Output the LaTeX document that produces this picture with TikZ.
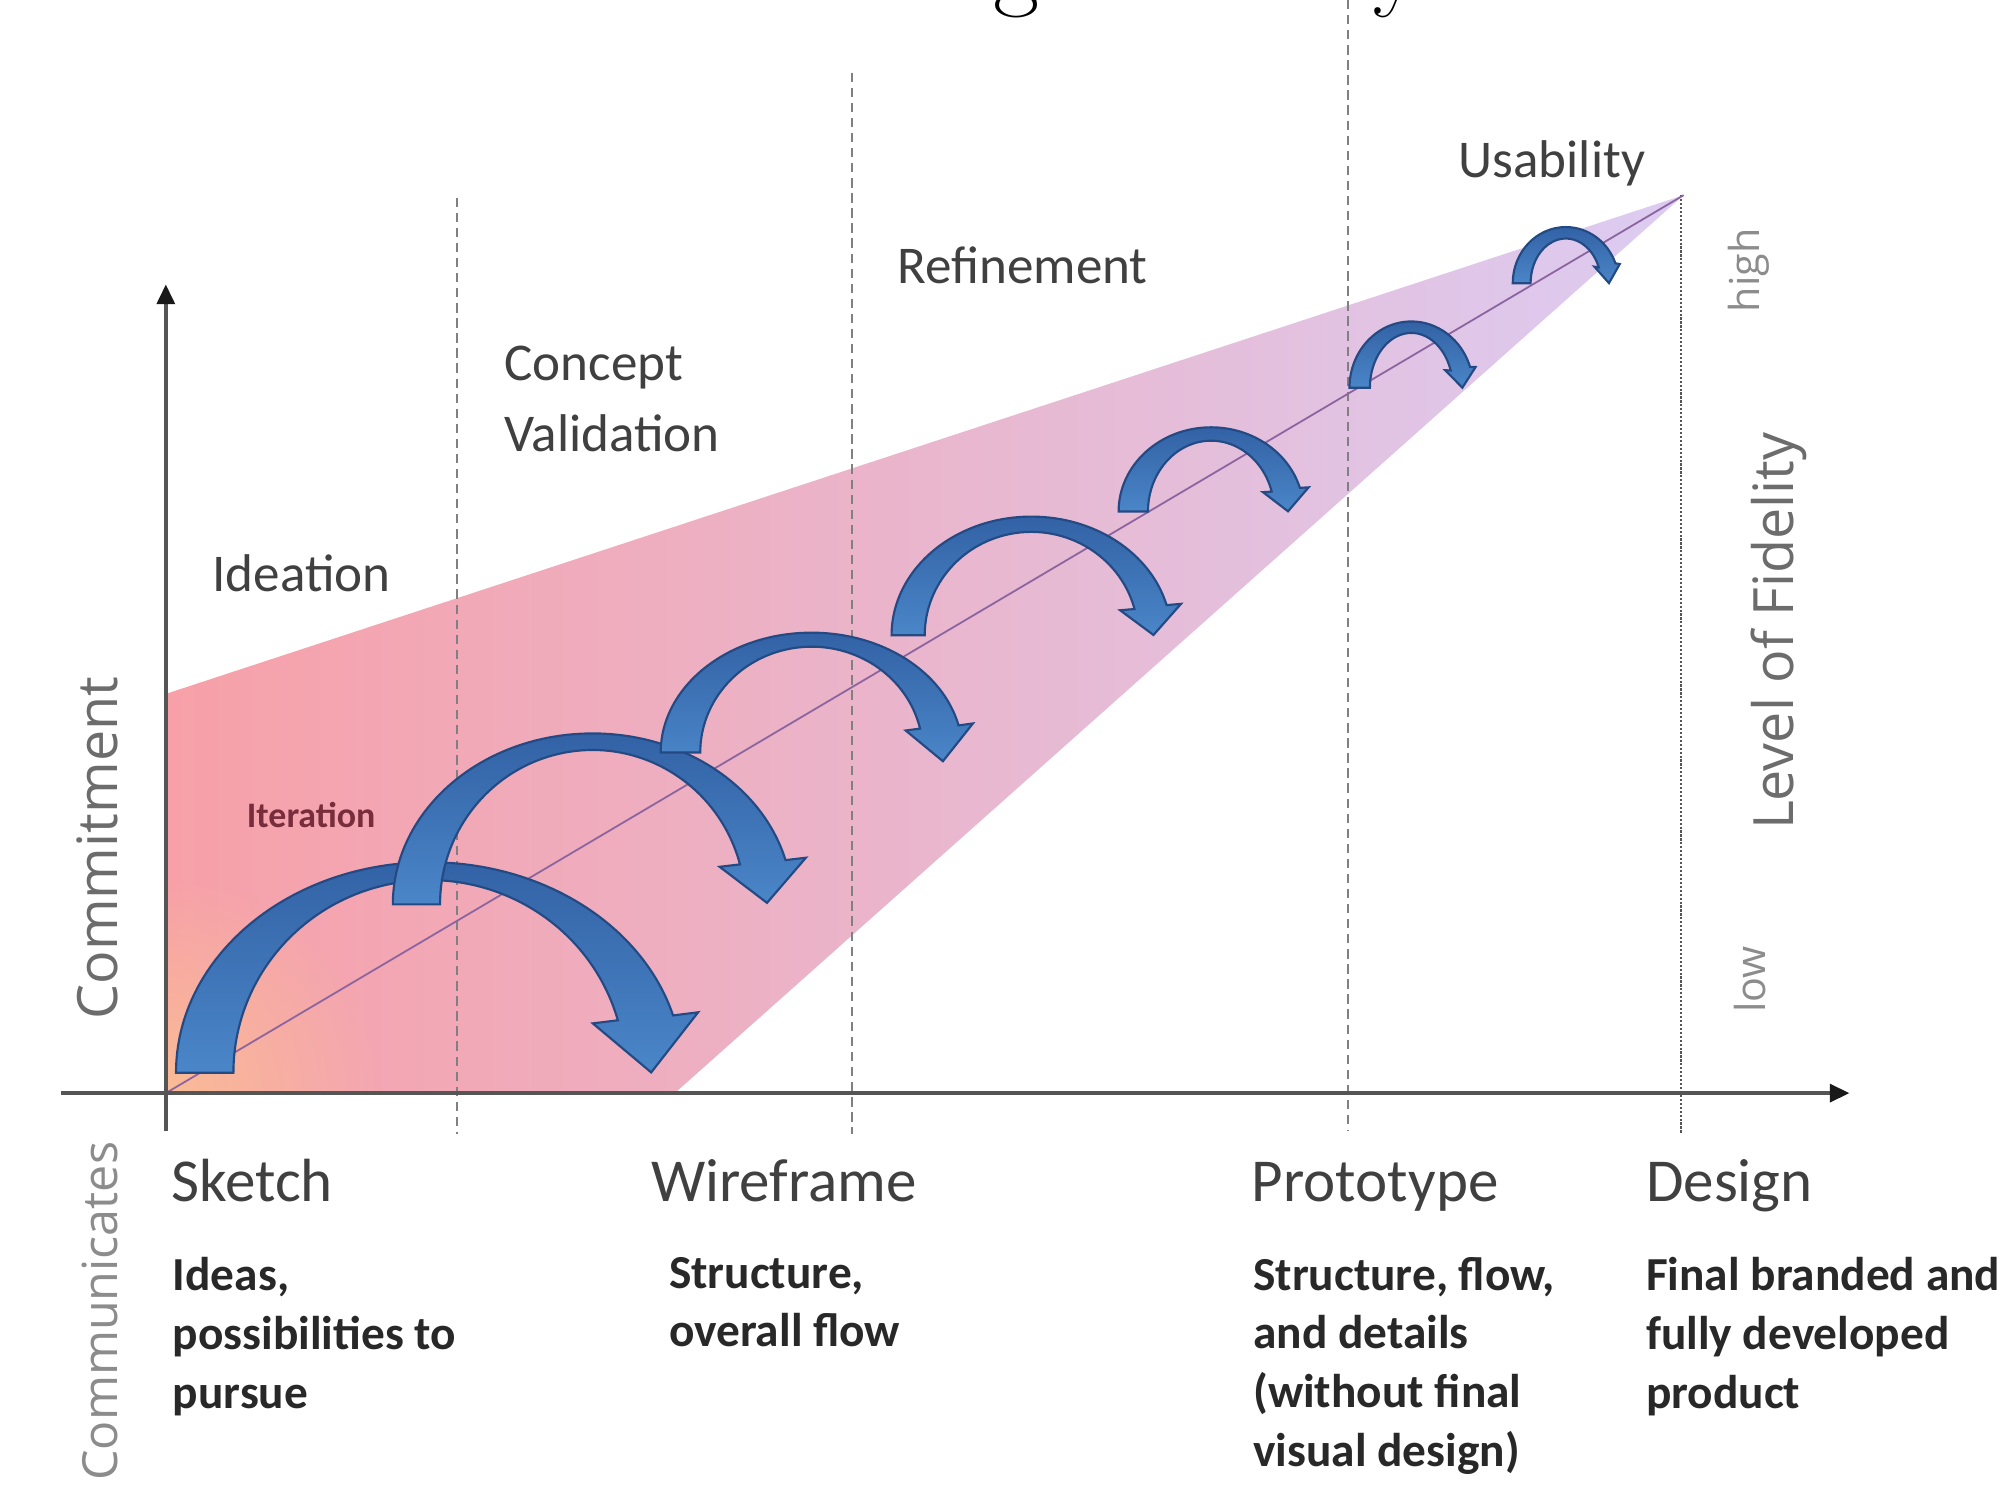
\documentclass[tikz,border=0pt]{standalone}
\usepackage{fontspec}
\newfontfamily\carlito{Carlito}
\newfontfamily\osans{Open Sans}
\usetikzlibrary{calc,arrows.meta,fadings}
\tikzfading[name=glowfade, inner color=transparent!0, outer color=transparent!100]
\definecolor{arrowtop}{RGB}{50,98,165}
\definecolor{arrowbot}{RGB}{74,134,200}
\definecolor{arrowedge}{RGB}{36,74,132}
\definecolor{fanL}{RGB}{247,160,168}
\definecolor{fanM}{RGB}{236,164,204}
\definecolor{fanR}{RGB}{220,204,242}
\definecolor{fanO}{RGB}{250,188,150}
\definecolor{diagc}{RGB}{140,100,160}
\definecolor{guidec}{RGB}{128,128,128}
\definecolor{axisc}{RGB}{85,85,85}
\definecolor{tipc}{RGB}{25,25,25}
\definecolor{lblc}{RGB}{64,64,64}
\definecolor{descc}{RGB}{40,40,40}
\definecolor{sidec}{RGB}{108,108,108}
\definecolor{sidelc}{RGB}{140,140,140}
\definecolor{iterc}{RGB}{120,45,60}

% #1 cx, #2 cy, #3 a, #4 b, #5 ta, #6 tb, #7 end angle, #8 head width, #9 head length
\newcommand\iterarrow[9]{%
  \pgfmathsetmacro\itAO{#3+#5/2}%
  \pgfmathsetmacro\itAI{#3-#5/2}%
  \pgfmathsetmacro\itBO{#4+#6/2}%
  \pgfmathsetmacro\itBI{#4-#6/2}%
  \pgfmathsetmacro\itPX{#1+#3*cos(#7)}%
  \pgfmathsetmacro\itPY{#2+#4*sin(#7)}%
  \pgfmathsetmacro\itIX{#1+\itAI*cos(#7)}%
  \pgfmathsetmacro\itIY{#2+\itBI*sin(#7)}%
  \pgfmathsetmacro\itSX{#1-\itAO}%
  \pgfmathsetmacro\itHW{#8/2}%
  \shadedraw[itarrow] (\itSX,#2)
    arc[start angle=180,end angle=#7,x radius=\itAO,y radius=\itBO]
    -- ($(\itPX,\itPY)+(-6:\itHW)$) -- ($(\itPX,\itPY)+(84:#9)$)
    -- ($(\itPX,\itPY)+(174:\itHW)$) -- (\itIX,\itIY)
    arc[start angle=#7,end angle=180,x radius=\itAI,y radius=\itBI] -- cycle;
}

\begin{document}
\begin{tikzpicture}[x=0.0125cm,y=-0.0125cm,
  itarrow/.style={top color=arrowtop,bottom color=arrowbot,draw=arrowedge,line width=0.6pt,line join=miter},
  guide/.style={draw=guidec,line width=0.5pt,dash pattern=on 2.6pt off 1.6pt},
  dotguide/.style={draw=axisc,line width=0.6pt,dash pattern=on 0.6pt off 0.5pt},
  axis/.style={draw=axisc,line width=1pt,-{Triangle[length=5.5pt,width=5pt,color=tipc]}},
  diagline/.style={draw=diagc,line width=0.5pt},
  lbl/.style={font=\carlito\fontsize{14.8}{18}\selectfont,text=lblc,inner sep=0pt,anchor=base west},
  stage/.style={font=\carlito\fontsize{17}{20}\selectfont,text=lblc,inner sep=0pt,anchor=base west},
  desc/.style={font=\carlito\bfseries\fontsize{13.2}{16.4}\selectfont,text=descc,inner sep=0pt,anchor=north west,align=left},
  side/.style={font=\osans\fontsize{15.5}{18}\selectfont,text=sidec,inner sep=0pt,rotate=90},
  sidesmall/.style={font=\osans\fontsize{11.5}{14}\selectfont,text=sidelc,inner sep=0pt,rotate=90},
  iter/.style={font=\carlito\bfseries\fontsize{10}{12}\selectfont,text=iterc,inner sep=0pt,anchor=base west},
  titleglyph/.style={font=\fontsize{28}{30}\selectfont,text=black,inner sep=0pt}
]
\useasboundingbox (0,0) rectangle (1568,1176);
\fill[white] (0,0) rectangle (1568,1176);

% key points
\coordinate (O) at (130,857);
\coordinate (fanTL) at (130,544);
\coordinate (apex) at (1320,153);
\coordinate (fanBR) at (529,857);
\coordinate (ytop) at (130,223);
\coordinate (ybot) at (130,887);
\coordinate (xleft) at (48,857);
\coordinate (xright) at (1450,857);

% title descenders (title is cut off at the top)
\node[titleglyph,anchor=base] (tg) at (797,-2) {g};
\node[titleglyph,anchor=base west] (ty) at (1076,-2) {y};

% fan
\shade[left color=fanL,middle color=fanM,right color=fanR] (O) -- (fanTL) -- (apex) -- (fanBR) -- cycle;
\begin{scope}
  \clip (O) -- (fanTL) -- (apex) -- (fanBR) -- cycle;
  \fill[fanO,path fading=glowfade] (O) circle (170);
\end{scope}

% guide lines
\coordinate (g1t) at (358,155); \coordinate (g1b) at (358,889);
\coordinate (g2t) at (668,57);  \coordinate (g2b) at (668,889);
\coordinate (g3t) at (1057,0);  \coordinate (g3b) at (1057,886);
\coordinate (g4b) at (1318,889); \coordinate (g4t) at (1318,153);
\draw[guide] (g1t) -- (g1b);
\draw[guide] (g2t) -- (g2b);
\draw[guide] (g3t) -- (g3b);
\draw[dotguide] (g4t) -- (g4b);

% fidelity diagonal
\draw[diagline] (O) -- (apex);

% iteration arrows
\iterarrow{336.6}{841}{176.1}{158}{45}{14}{344.2}{83}{43}
\iterarrow{464.6}{709}{138.1}{127.5}{37}{13}{345}{68}{32}
\iterarrow{636.3}{590}{102.8}{88.5}{31}{11}{346.9}{53}{27}
\iterarrow{808.6}{498}{96.6}{87}{26}{12}{345.3}{48}{22}
\iterarrow{949.5}{401}{61}{60.75}{23}{10.5}{343.7}{36}{17}
\iterarrow{1106.5}{304}{40.5}{47.5}{16}{9}{341.6}{24}{15}
\iterarrow{1227.6}{222}{34.6}{39.5}{14}{9}{339.3}{20}{14}

% axes
\draw[axis] (ybot) -- (ytop);
\draw[axis] (xleft) -- (xright);

% phase labels
\node[lbl] (lUsab) at (1143,139) {Usability};
\node[lbl] (lRef) at (703,222) {Refinement};
\node[lbl] (lConc) at (395,298) {Concept};
\node[lbl] (lVal) at (395,354) {Validation};
\node[lbl] (lIdea) at (166,464) {Ideation};
\node[iter] (lIter) at (193,649) {Iteration};

% side labels
\node[side] (lCommit) at (76,665) {Commitment};
\node[side] (lFid) at (1395,495) {Level of Fidelity};
\node[sidesmall] (lHigh) at (1371,212) {high};
\node[sidesmall] (lLow) at (1372,768) {low};
\node[side,font=\osans\fontsize{13.5}{16}\selectfont,text=sidelc] (lComm) at (78,1028) {Communicates};

% stages
\node[stage] (sSketch) at (134,942) {Sketch};
\node[stage] (sWire) at (510,942) {Wireframe};
\node[stage] (sProto) at (981,942) {Prototype};
\node[stage] (sDesign) at (1290,942) {Design};

% descriptions
\node[desc] (dSketch) at (135,985) {Ideas,\\possibilities to\\pursue};
\node[desc] (dWire) at (524,985) {Structure,\\overall flow};
\node[desc] (dProto) at (982,985) {Structure, flow,\\and details\\(without final\\visual design)};
\node[desc] (dDesign) at (1290,985) {Final branded and\\fully developed\\product};
\end{tikzpicture}
\end{document}
